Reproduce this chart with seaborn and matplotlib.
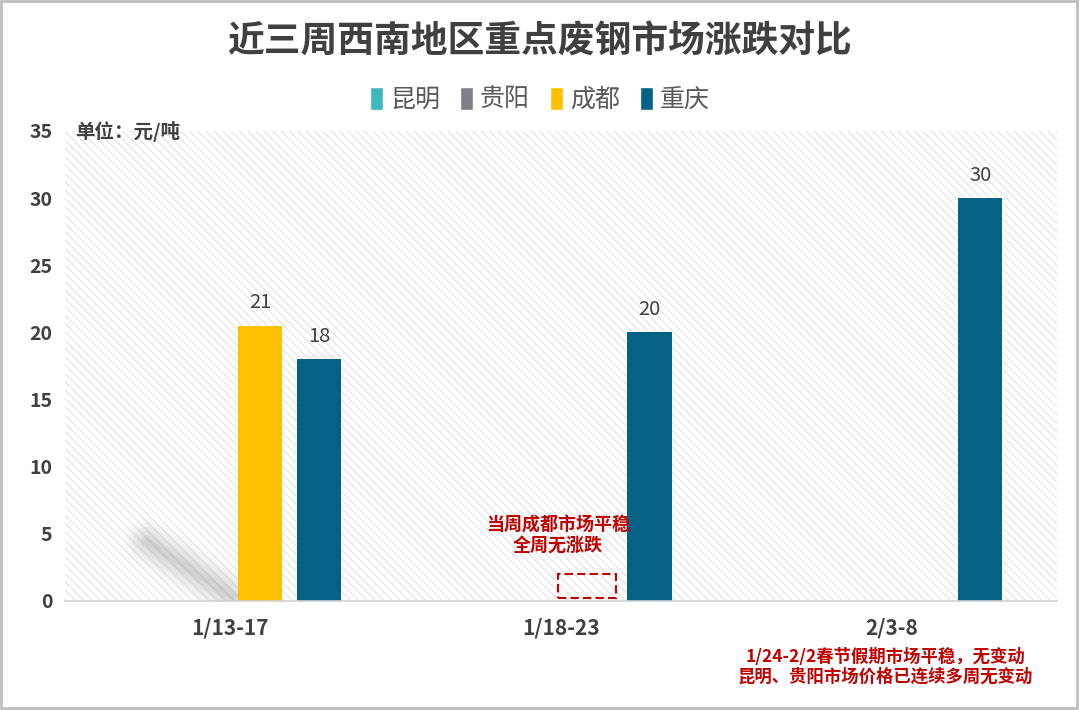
import pandas as pd
import matplotlib.pyplot as plt
import seaborn as sns
from matplotlib.patches import Patch, Rectangle

# data
weeks = ['1/13-17', '1/18-23', '2/3-8']
cities = ['昆明', '贵阳', '成都', '重庆']
kunming = [0, 0, 0]
guiyang = [0, 0, 0]
chengdu = [20.5, 0, 0]
chongqing = [18, 20, 30]
colors = ['#3DB8BF', '#7F7F89', '#FFC000', '#056185']
y_ticks = [0, 5, 10, 15, 20, 25, 30, 35]

title = '近三周西南地区重点废钢市场涨跌对比'
unit_note = '单位：元/吨'
note_mid = '当周成都市场平稳\n全周无涨跌'
note_bottom = '1/24-2/2春节假期市场平稳，无变动\n昆明、贵阳市场价格已连续多周无变动'

rows = []
for city, vals in zip(cities, [kunming, guiyang, chengdu, chongqing]):
    for w, v in zip(weeks, vals):
        rows.append({'week': w, 'city': city, 'value': v})
df = pd.DataFrame(rows)

sns.set_theme(style='white')
plt.rcParams['font.family'] = ['Noto Sans CJK SC', 'DejaVu Sans']
plt.rcParams['hatch.linewidth'] = 1.1

dark = '#404040'
red = '#C00000'

fig = plt.figure(figsize=(10.8, 7.1), dpi=100)
ax = fig.add_axes([65 / 1080, 1 - 601 / 710, 992 / 1080, 470 / 710])

# hatched plot background
ax.add_patch(Rectangle((0, 0), 1, 1, transform=ax.transAxes, facecolor='white',
                       edgecolor='#e8e8e8', hatch='\\\\\\\\', lw=0, zorder=0))

sns.barplot(data=df, x='week', y='value', hue='city', order=weeks, hue_order=cities,
            palette=colors, width=0.715, gap=0.25, linewidth=0, saturation=1,
            legend=False, ax=ax, zorder=2)

ax.set_ylim(0, 35)
ax.set_xlim(-0.5, 2.5)
ax.set_yticks(y_ticks)
ax.set_xlabel('')
ax.set_ylabel('')
for s in ['left', 'right', 'top']:
    ax.spines[s].set_visible(False)
ax.spines['bottom'].set_color('#d0d0d0')
ax.spines['bottom'].set_linewidth(1.2)
ax.tick_params(axis='both', length=0, colors=dark)
ax.tick_params(axis='x', pad=12, labelsize=15)
ax.tick_params(axis='y', pad=9, labelsize=14)
for lab in ax.get_xticklabels() + ax.get_yticklabels():
    lab.set_fontweight('bold')

# value labels on non-zero bars
for cont in ax.containers:
    labels = [str(int(b.get_height() + 0.5)) if b.get_height() > 0 else '' for b in cont]
    ax.bar_label(cont, labels=labels, padding=9, fontsize=14.5, color=dark)

# soft shadow streak left of the first group
for lw, a in [(34, 0.025), (28, 0.03), (22, 0.04), (16, 0.05), (10, 0.06), (5, 0.06)]:
    ax.plot([-0.25, 0.005], [4.4, 0.35], color='#505050', lw=lw, alpha=a,
            solid_capstyle='round', zorder=1)

# dashed box where chengdu's bar would be in week 2
cd_bar = ax.containers[cities.index('成都')][1]
bx = cd_bar.get_x()
bw = cd_bar.get_width()
ax.add_patch(Rectangle((bx - 0.03, 0.2), bw + 0.04, 1.8, fill=False, edgecolor=red,
                       lw=1.5, ls=(0, (4, 2)), zorder=3))
ax.text(0.99, 4.85, note_mid, ha='center', va='center', color=red, fontsize=13,
        fontweight='bold', linespacing=1.1)

trans = ax.get_xaxis_transform()
ax.text(1.98, -0.1, note_bottom, transform=trans, ha='center', va='top', color=red,
        fontsize=12.5, fontweight='bold', linespacing=1.1)

fig.text(75 / 1080, 1 - 132 / 710, unit_note, ha='left', va='center', color=dark,
         fontsize=14, fontweight='bold')

fig.suptitle(title, x=0.5, y=1 - 42 / 710, va='center', fontsize=26.5,
             fontweight='heavy', color=dark)

handles = [Patch(facecolor=c, label=n) for c, n in zip(colors, cities)]
fig.legend(handles=handles, loc='center', bbox_to_anchor=(0.5, 1 - 100 / 710), ncol=4,
           frameon=False, fontsize=18, handlelength=0.5, handleheight=1.0,
           handletextpad=0.3, columnspacing=0.8, labelcolor='#595959')

# outer frame
fig.add_artist(Rectangle((1 / 1080, 2 / 710), 1076 / 1080, 707 / 710,
                         transform=fig.transFigure, fill=False,
                         edgecolor='#bdbdbd', lw=2))

fig.savefig('out.png', dpi=100)
